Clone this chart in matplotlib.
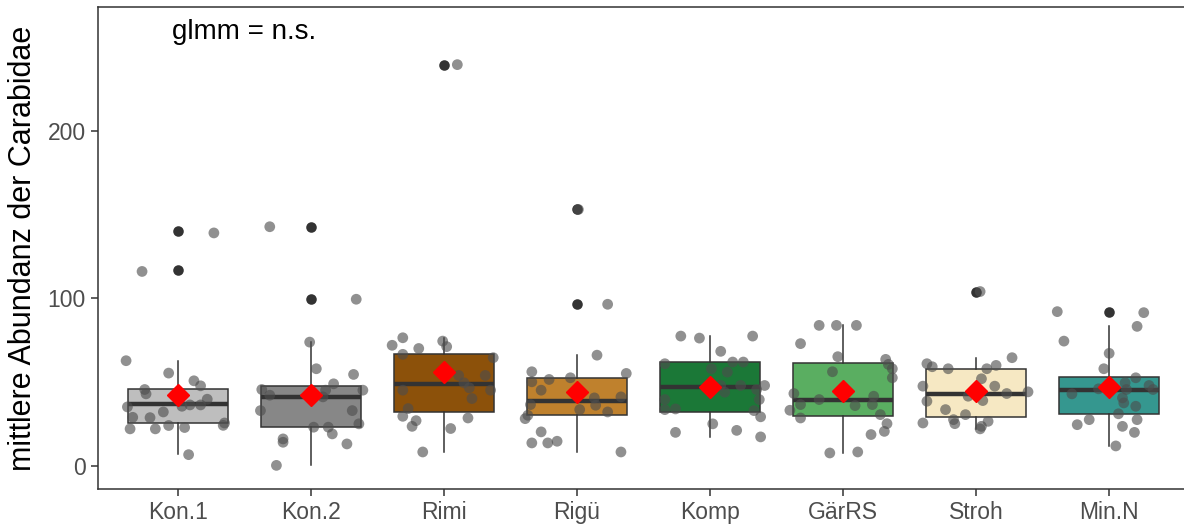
import numpy as np
import matplotlib.pyplot as plt

plt.rcParams['font.family'] = ['Liberation Sans', 'DejaVu Sans']

# Gruppen und Boxplot-Kennwerte
groups = ['Kon.1', 'Kon.2', 'Rimi', 'Rigü', 'Komp', 'GärRS', 'Stroh', 'Min.N']
colors = ['#bebebe', '#878787', '#8c510a', '#bf812d', '#1b7837', '#5aae61', '#f6e8c3', '#35978f']
q1 = [25.5, 23.0, 32.1, 30.1, 32.1, 29.5, 29.2, 31.0]
med = [36.7, 41.1, 48.9, 38.5, 46.9, 39.5, 43.1, 45.1]
q3 = [46.0, 47.5, 67.0, 52.1, 61.9, 61.5, 57.9, 53.1]
whis_lo = [7.0, 0.5, 8.4, 8.4, 17.2, 7.8, 22.0, 11.8]
whis_hi = [62.5, 73.8, 76.4, 66.3, 77.4, 83.8, 64.5, 83.2]
means = [42.1, 42.1, 56.1, 44.1, 46.9, 44.9, 44.9, 46.9]
fliers = [[140.0, 117.0], [142.7, 99.4], [239.5], [153.0, 96.4], [], [], [104.0], [91.5]]

# Einzelwerte: Jitter-Versatz und Abundanz je Gruppe
jit_kon1 = [-0.39, -0.07, 0.12, 0.17, -0.25, -0.24, 0.22, -0.38, 0.03, 0.09, 0.17, -0.34,
            -0.21, -0.11, -0.36, -0.17, -0.07, 0.05, 0.34, 0.35, 0.08, 0.27, -0.27]
val_kon1 = [62.7, 55.3, 50.7, 47.7, 45.5, 42.9, 39.7, 35.1, 35.5, 36.3, 36.3, 28.9,
            28.7, 32.1, 22.0, 22.0, 24.0, 22.8, 24.1, 25.5, 6.6, 139.0, 116.0]
jit_kon2 = [-0.01, 0.04, 0.32, 0.17, 0.11, 0.39, -0.37, -0.31, 0.09, 0.31, -0.38, 0.02,
            0.13, 0.16, 0.36, -0.21, -0.21, 0.27, -0.26, -0.31, 0.34]
val_kon2 = [73.8, 57.9, 54.5, 48.9, 45.1, 45.1, 45.5, 42.1, 41.1, 32.9, 32.9, 23.0,
            23.0, 19.0, 25.0, 16.0, 14.0, 13.0, 0.2, 142.7, 99.4]
jit_rimi = [-0.39, -0.31, -0.19, -0.01, 0.02, -0.31, 0.37, 0.11, 0.31, 0.15, 0.19,
            -0.31, 0.35, 0.21, -0.27, -0.31, -0.21, -0.24, 0.18, 0.05, -0.16, 0.10]
val_rimi = [71.9, 76.4, 70.0, 74.4, 71.1, 66.5, 64.5, 53.9, 53.9, 49.5, 46.5,
            45.1, 45.1, 40.1, 34.1, 29.5, 26.9, 23.5, 28.5, 22.2, 8.2, 239.5]
jit_rigu = [0.15, -0.34, -0.21, -0.05, 0.37, -0.34, -0.27, 0.33, 0.13, 0.14, -0.35,
            0.02, 0.23, -0.37, -0.39, -0.27, -0.34, -0.22, -0.15, 0.33, 0.23, 0.01]
val_rigu = [66.0, 56.1, 51.5, 52.5, 55.1, 50.1, 45.1, 41.1, 40.5, 36.1, 36.5,
            33.5, 32.1, 30.1, 28.1, 20.2, 13.6, 13.6, 14.6, 8.2, 96.4, 153.0]
jit_komp = [-0.22, -0.08, 0.32, 0.08, -0.34, 0.17, 0.25, 0.01, 0.13, 0.08, 0.23, 0.41,
            0.35, 0.11, -0.34, 0.37, -0.34, -0.26, 0.33, 0.38, 0.02, -0.26, 0.20, 0.38]
val_komp = [77.4, 76.2, 77.4, 68.3, 60.9, 61.9, 61.9, 57.9, 55.9, 47.9, 47.9, 47.9,
            45.5, 43.9, 39.5, 39.5, 33.5, 33.9, 32.9, 29.2, 25.0, 19.9, 21.1, 17.2]
jit_gaer = [-0.18, -0.05, 0.10, -0.32, -0.04, 0.32, 0.34, 0.37, 0.37, -0.08, -0.37, -0.18,
            0.23, -0.32, 0.09, 0.22, -0.40, -0.32, 0.28, 0.33, 0.31, 0.21, -0.10, 0.11]
val_gaer = [83.8, 83.8, 83.8, 72.9, 65.1, 63.5, 60.5, 57.9, 52.5, 56.1, 43.1, 39.5,
            41.5, 36.5, 35.9, 36.5, 33.1, 28.5, 30.5, 25.1, 20.5, 18.6, 7.6, 8.2]
jit_stroh = [-0.37, -0.33, -0.21, 0.27, 0.15, 0.08, 0.04, 0.14, 0.23, 0.39, -0.06, 0.05,
             -0.40, -0.37, -0.23, -0.08, -0.17, -0.16, 0.09, 0.04, 0.03, -0.40, 0.03]
val_stroh = [60.9, 59.1, 57.9, 64.5, 59.9, 57.9, 51.9, 47.5, 43.1, 44.1, 41.5, 38.9,
             47.5, 38.5, 33.5, 30.5, 27.5, 25.1, 26.5, 23.5, 22.0, 25.5, 104.0]
jit_minn = [0.21, -0.34, 0.00, -0.04, 0.20, 0.12, 0.30, 0.33, -0.28, -0.08, 0.13, 0.10,
            0.11, 0.20, 0.07, -0.15, -0.24, 0.21, 0.10, 0.19, 0.05, -0.39, 0.26]
val_minn = [83.2, 74.4, 67.1, 57.9, 52.5, 49.5, 47.9, 45.5, 42.9, 45.9, 45.5, 40.5,
            37.5, 35.5, 31.0, 27.5, 24.5, 27.5, 23.5, 19.9, 11.8, 92.0, 91.4]

jitters = [jit_kon1, jit_kon2, jit_rimi, jit_rigu, jit_komp, jit_gaer, jit_stroh, jit_minn]
values = [val_kon1, val_kon2, val_rimi, val_rigu, val_komp, val_gaer, val_stroh, val_minn]

pos = np.arange(1, len(groups) + 1)

fig = plt.figure(figsize=(11.84, 5.28), dpi=100)
ax = fig.add_axes([0.0829, 0.0739, 0.9213, 0.9128])

stats = []
for i in range(len(groups)):
    stats.append({'q1': q1[i], 'med': med[i], 'q3': q3[i],
                  'whislo': whis_lo[i], 'whishi': whis_hi[i], 'fliers': fliers[i]})

bp = ax.bxp(stats, positions=pos, widths=0.75, patch_artist=True, showcaps=False,
            boxprops=dict(edgecolor='#333333', linewidth=1.1),
            whiskerprops=dict(color='#333333', linewidth=1.1),
            medianprops=dict(color='#333333', linewidth=3.2),
            flierprops=dict(marker='o', markerfacecolor='#333333', markeredgecolor='none',
                            markersize=7.6))
for patch, c in zip(bp['boxes'], colors):
    patch.set_facecolor(c)

# Jitter-Punkte
for i in range(len(groups)):
    ax.scatter(pos[i] + np.array(jitters[i]), values[i], s=60, color='#4d4d4d',
               alpha=0.62, edgecolors='none', zorder=4)

# Mittelwerte
ax.plot(pos, means, linestyle='none', marker='D', color='red', markersize=11.5, zorder=5)

ax.text(1.5, 259, 'glmm = n.s.', fontsize=20, ha='center', va='center', color='black')

ax.set_xlim(0.4, 8.6)
ax.set_ylim(-13.9, 273.9)
ax.set_xticks(pos)
ax.set_xticklabels(groups)
ax.set_yticks([0, 100, 200])
ax.set_ylabel('mittlere Abundanz der Carabidae', fontsize=22, labelpad=7)
ax.tick_params(axis='both', labelsize=16.5, labelcolor='#4d4d4d', color='#333333',
               length=5, width=1.1, pad=4)
for s in ax.spines.values():
    s.set_color('#333333')
    s.set_linewidth(1.1)

fig.savefig('out.png', dpi=100)
